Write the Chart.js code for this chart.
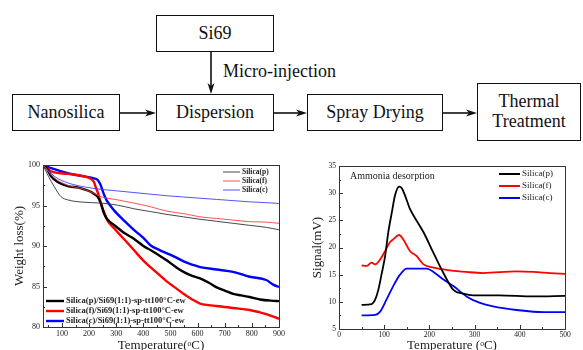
<!DOCTYPE html>
<html>
<head>
<meta charset="utf-8">
<script src="https://cdn.jsdelivr.net/npm/chart.js@4.4.1/dist/chart.umd.min.js"></script>
<style>
  body { margin: 0; background: #fff; }
  #wrap { position: relative; width: 583px; height: 350px; overflow: hidden; background: #fff; }
  .box, .note {
    font-family: "Liberation Serif", "DejaVu Serif", serif;
    font-size: 18px; color: #111;
  }
  .box {
    position: absolute; box-sizing: border-box; border: 1.5px solid #111;
    display: flex; align-items: center; justify-content: center; text-align: center;
    line-height: 1.1;
  }
  .note { position: absolute; }
  .panel { position: absolute; }
</style>
</head>
<body>
<div id="wrap">
  <svg width="583" height="150" style="position:absolute;left:0;top:0">
    <g stroke="#111" stroke-width="1.6" fill="none">
      <line x1="211" y1="52" x2="211" y2="86"/>
      <line x1="120" y1="113" x2="148" y2="113"/>
      <line x1="274" y1="113" x2="299" y2="113"/>
      <line x1="443" y1="113" x2="469" y2="113"/>
    </g>
    <g fill="#111">
      <path d="M211,94 L207.5,83 L211,86 L214.5,83 Z"/>
      <path d="M156,113 L145,109.5 L148,113 L145,116.5 Z"/>
      <path d="M307,113 L296,109.5 L299,113 L296,116.5 Z"/>
      <path d="M477,113 L466,109.5 L469,113 L466,116.5 Z"/>
    </g>
  </svg>
  <div class="box" style="left:156px;top:15px;width:118px;height:37px">Si69</div>
  <div class="note" style="left:223px;top:61px">Micro-injection</div>
  <div class="box" style="left:12px;top:94px;width:108px;height:37px">Nanosilica</div>
  <div class="box" style="left:156px;top:94px;width:118px;height:37px">Dispersion</div>
  <div class="box" style="left:307px;top:94px;width:136px;height:37px">Spray Drying</div>
  <div class="box" style="left:477px;top:83px;width:104px;height:58px">Thermal<br>Treatment</div>

  <div class="panel" style="left:0;top:150px;width:300px;height:200px"><canvas id="tga" width="300" height="200"></canvas></div>
  <div class="panel" style="left:300px;top:150px;width:283px;height:200px"><canvas id="tpd" width="283" height="200"></canvas></div>
</div>
<script>
// ---- TGA (weight loss) data ----
var tgaXTicks = [100, 200, 300, 400, 500, 600, 700, 800, 900];
var tgaYTicks = [80, 85, 90, 95, 100];

var silicaPTemp = [30, 50, 72, 96, 121, 182, 243, 304, 365, 426, 487, 548, 609, 670, 731, 792, 853, 900];
var silicaPLoss = [100, 98.6, 97.3, 96.1, 95.7, 95.4, 95.3, 95.05, 94.6, 94.25, 93.9, 93.6, 93.3, 93.05, 92.8, 92.55, 92.3, 92.0];

var silicaFTemp = [30, 50, 72, 121, 182, 218, 243, 304, 365, 426, 487, 548, 609, 670, 731, 792, 853, 900];
var silicaFLoss = [100, 99.2, 98.4, 97.5, 97.0, 96.5, 96.1, 95.7, 95.3, 94.85, 94.3, 94.0, 93.6, 93.4, 93.2, 93.0, 92.95, 92.8];

var silicaCTemp = [30, 50, 72, 121, 182, 243, 304, 365, 426, 487, 548, 609, 670, 731, 792, 853, 900];
var silicaCLoss = [100, 99.3, 98.6, 97.8, 97.3, 97.0, 96.8, 96.6, 96.4, 96.2, 96.05, 95.9, 95.75, 95.6, 95.45, 95.35, 95.25];

var modPTemp = [30, 45, 60, 84, 121, 160, 182, 206, 220, 231, 243, 255, 267, 292, 330, 365, 400, 426, 460, 487, 520, 548, 580, 609, 640, 670, 700, 731, 760, 792, 830, 870, 900];
var modPLoss = [100, 99.5, 98.6, 97.9, 97.4, 97.2, 97.0, 96.7, 96.4, 96.1, 95.3, 94.0, 93.3, 92.6, 91.6, 90.9, 90.0, 89.5, 88.8, 88.2, 87.4, 86.8, 86.3, 86.0, 85.5, 84.9, 84.5, 84.1, 83.9, 83.7, 83.4, 83.25, 83.2];

var modFTemp = [30, 45, 60, 121, 182, 206, 218, 224, 235, 243, 255, 267, 292, 330, 365, 400, 426, 460, 487, 520, 548, 580, 609, 640, 670, 731, 792, 830, 853, 900];
var modFLoss = [100, 99.6, 99.2, 98.9, 98.6, 98.3, 97.9, 97.3, 96.3, 95.3, 94.2, 93.2, 92.2, 90.8, 89.5, 88.2, 87.4, 86.4, 85.6, 84.8, 84.1, 83.4, 82.9, 82.7, 82.6, 82.35, 82.1, 81.8, 81.6, 81.0];

var modCTemp = [30, 60, 121, 182, 218, 230, 237, 243, 249, 258, 267, 292, 330, 365, 400, 426, 460, 487, 520, 548, 580, 609, 670, 731, 792, 853, 880, 900];
var modCLoss = [100, 99.6, 99.0, 98.6, 98.35, 98.2, 97.9, 97.5, 96.9, 96.1, 95.5, 94.4, 93.1, 92.0, 91.0, 90.1, 89.5, 89.1, 88.6, 88.1, 87.7, 87.4, 87.1, 86.8, 86.2, 85.8, 85.2, 84.95];

// ---- TPD (ammonia desorption) data ----
var tpdXTicks = [0, 100, 200, 300, 400, 500];
var tpdYTicks = [5, 10, 15, 20, 25, 30, 35];

var tpdPTemp = [50, 72, 80, 87, 94, 102, 109, 117, 124, 133, 139, 146, 157, 172, 187, 209, 231, 253, 275, 297, 354, 430, 500];
var tpdPSignal = [9.45, 9.6, 10.4, 12.2, 15.0, 18.4, 22.8, 26.5, 29.6, 31.2, 30.9, 29.6, 27.1, 24.9, 22.8, 19.0, 15.3, 12.2, 11.5, 11.2, 11.2, 11.0, 11.1];

var tpdFTemp = [50, 61, 72, 80, 91, 102, 113, 120, 133, 142, 157, 172, 187, 209, 246, 282, 319, 393, 430, 467, 500];
var tpdFSignal = [16.7, 16.6, 17.2, 16.9, 17.8, 19.35, 21.0, 21.5, 22.3, 21.5, 19.35, 18.4, 16.9, 16.3, 15.8, 15.5, 15.3, 15.6, 15.5, 15.3, 15.15];

var tpdCTemp = [50, 80, 91, 105, 120, 135, 150, 172, 194, 209, 231, 253, 282, 312, 341, 393, 452, 500];
var tpdCSignal = [7.5, 7.6, 8.2, 10.4, 12.9, 15.0, 16.1, 16.1, 16.1, 15.5, 14.1, 12.9, 11.0, 9.8, 9.15, 8.5, 8.1, 8.1];

var SERIF = "'Liberation Serif', 'Times New Roman', serif";

function pairs(xs, ys) {
  return xs.map(function (x, i) { return { x: x, y: ys[i] }; });
}

function series(label, xs, ys, color, width) {
  return {
    label: label, data: pairs(xs, ys), borderColor: color, backgroundColor: color,
    borderWidth: width, pointRadius: 0, cubicInterpolationMode: 'monotone', fill: false
  };
}

// Plot frame plus small inward tick marks on the bottom and left axes.
var framePlugin = {
  id: 'frame',
  afterDatasetsDraw: function (chart, args, opts) {
    var ctx = chart.ctx, a = chart.chartArea, sx = chart.scales.x, sy = chart.scales.y;
    ctx.save();
    ctx.strokeStyle = '#333';
    ctx.lineWidth = 1;
    ctx.strokeRect(Math.round(a.left) + 0.5, Math.round(a.top) + 0.5, Math.round(a.width), Math.round(a.height));
    var v, p, len;
    for (v = Math.ceil(sx.min / opts.xMinor) * opts.xMinor; v <= sx.max; v += opts.xMinor) {
      p = Math.round(sx.getPixelForValue(v)) + 0.5;
      len = (v % opts.xMajor === 0) ? 4 : 2;
      ctx.beginPath(); ctx.moveTo(p, a.bottom); ctx.lineTo(p, a.bottom - len); ctx.stroke();
    }
    for (v = Math.ceil(sy.min / opts.yMinor) * opts.yMinor; v <= sy.max; v += opts.yMinor) {
      p = Math.round(sy.getPixelForValue(v)) + 0.5;
      len = (v % opts.yMajor === 0) ? 4 : 2;
      ctx.beginPath(); ctx.moveTo(a.left, p); ctx.lineTo(a.left + len, p); ctx.stroke();
    }
    ctx.restore();
  }
};

// Legend blocks and free notes drawn inside the plot area.
var notesPlugin = {
  id: 'notes',
  afterDatasetsDraw: function (chart, args, opts) {
    var ctx = chart.ctx;
    ctx.save();
    ctx.textBaseline = 'middle';
    ctx.textAlign = 'left';
    (opts.legends || []).forEach(function (lg) {
      ctx.font = lg.font;
      lg.items.forEach(function (idx, i) {
        var ds = chart.data.datasets[idx];
        var y = lg.y + i * lg.dy;
        ctx.strokeStyle = ds.borderColor;
        ctx.lineWidth = lg.lineWidth || ds.borderWidth;
        ctx.beginPath(); ctx.moveTo(lg.x, y); ctx.lineTo(lg.x + lg.len, y); ctx.stroke();
        ctx.fillStyle = '#222';
        ctx.fillText(ds.label, lg.x + lg.len + 2, y);
      });
    });
    (opts.texts || []).forEach(function (t) {
      ctx.font = t.font;
      ctx.fillStyle = '#222';
      ctx.fillText(t.text, t.x, t.y);
    });
    ctx.restore();
  }
};

function axes(xMin, xMax, xTicks, yMin, yMax, yTicks, yWidth, xHeight, xTitle, yTitle, tickSize, yTitlePad) {
  return {
    x: {
      type: 'linear', min: xMin, max: xMax,
      afterBuildTicks: function (s) { s.ticks = xTicks.map(function (v) { return { value: v }; }); },
      afterFit: function (s) { s.height = xHeight; },
      grid: { display: false, drawTicks: false }, border: { display: false },
      ticks: { padding: 2, color: '#222', font: { family: SERIF, size: tickSize }, maxRotation: 0, autoSkip: false },
      title: { display: true, text: xTitle, color: '#222', padding: { top: 0, bottom: -3 }, font: { family: SERIF, size: 13 } }
    },
    y: {
      type: 'linear', min: yMin, max: yMax,
      afterBuildTicks: function (s) { s.ticks = yTicks.map(function (v) { return { value: v }; }); },
      afterFit: function (s) { s.width = yWidth; },
      grid: { display: false, drawTicks: false }, border: { display: false },
      ticks: { padding: 3, color: '#222', font: { family: SERIF, size: tickSize }, autoSkip: false },
      title: { display: true, text: yTitle, color: '#222', padding: { top: yTitlePad, bottom: 0 }, font: { family: SERIF, size: 13 } }
    }
  };
}

new Chart(document.getElementById('tga'), {
  type: 'line',
  data: {
    datasets: [
      series('Silica(p)', silicaPTemp, silicaPLoss, '#333333', 0.9),
      series('Silica(f)', silicaFTemp, silicaFLoss, '#ff4040', 0.9),
      series('Silica(c)', silicaCTemp, silicaCLoss, '#4040ff', 0.9),
      series('Silica(p)/Si69(1:1)-sp-tt100\u00b0C-ew', modPTemp, modPLoss, '#000000', 2.4),
      series('Silica(f)/Si69(1:1)-sp-tt100\u00b0C-ew', modFTemp, modFLoss, '#ff0000', 2.4),
      series('Silica(c)/Si69(1:1)-sp-tt100\u00b0C-ew', modCTemp, modCLoss, '#0000ff', 2.4)
    ]
  },
  options: {
    responsive: false, animation: false, devicePixelRatio: 1,
    layout: { padding: { left: 0, right: 21, top: 15, bottom: 0 } },
    scales: axes(30, 900, tgaXTicks, 80, 100, tgaYTicks, 43, 23, 'Temperature(\u1d52C)', 'Weight loss(%)', 8, 12),
    plugins: {
      legend: { display: false }, tooltip: { enabled: false },
      frame: { xMinor: 50, xMajor: 100, yMinor: 2.5, yMajor: 5 },
      notes: {
        legends: [
          { items: [0, 1, 2], x: 223, y: 22, dy: 9, len: 17, font: 'bold 7.5px ' + SERIF, lineWidth: 0.9 },
          { items: [3, 4, 5], x: 46, y: 151, dy: 10, len: 18, font: 'bold 8.5px ' + SERIF }
        ]
      }
    }
  },
  plugins: [framePlugin, notesPlugin]
});

new Chart(document.getElementById('tpd'), {
  type: 'line',
  data: {
    datasets: [
      series('Silica(p)', tpdPTemp, tpdPSignal, '#000000', 1.8),
      series('Silica(f)', tpdFTemp, tpdFSignal, '#ff0000', 1.8),
      series('Silica(c)', tpdCTemp, tpdCSignal, '#0000ff', 1.8)
    ]
  },
  options: {
    responsive: false, animation: false, devicePixelRatio: 1,
    layout: { padding: { left: 0, right: 18, top: 16, bottom: 0 } },
    scales: axes(0, 500, tpdXTicks, 5, 35, tpdYTicks, 39, 21, 'Temperature (\u1d52C)', 'Signal(mV)', 7.5, 10),
    plugins: {
      legend: { display: false }, tooltip: { enabled: false },
      frame: { xMinor: 50, xMajor: 100, yMinor: 2.5, yMajor: 5 },
      notes: {
        legends: [
          { items: [0, 1, 2], x: 199, y: 24, dy: 12, len: 21, font: '9px ' + SERIF, lineWidth: 2 }
        ],
        texts: [
          { text: 'Ammonia desorption', x: 50, y: 26, font: '10px ' + SERIF }
        ]
      }
    }
  },
  plugins: [framePlugin, notesPlugin]
});
</script>
</body>
</html>
